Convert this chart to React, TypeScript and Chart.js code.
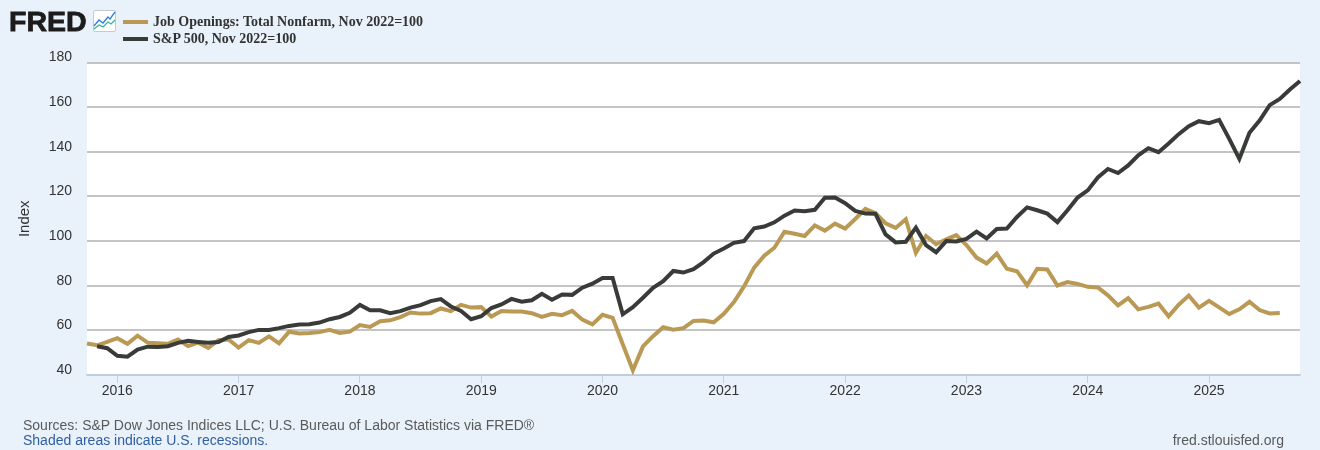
import React, { useEffect, useRef } from "react";
import { Chart, registerables } from "chart.js";

Chart.register(...registerables);

const START_YEAR = 2015;
const START_MONTH = 10;
const months: string[] = [];
for (let i = 0; i < 121; i++) {
  const m = START_MONTH - 1 + i;
  const y = START_YEAR + Math.floor(m / 12);
  months.push(`${y}-${String((m % 12) + 1).padStart(2, "0")}`);
}

const jobOpenings: (number | null)[] = [
  54.1, 53.3, 54.8, 56.5, 54, 57.6, 54.5, 54.2, 54, 55.9, 53, 54.5, 52.1, 55.6, 55.9, 52.3,
  55.6, 54.4, 57.3, 54.2, 59.4, 58.6, 58.8, 59.2, 60.2, 58.8, 59.4, 62.4, 61.5, 64.1, 64.5, 65.9,
  68, 67.5, 67.7, 69.8, 68.6, 71.4, 70.2, 70.4, 66.2, 68.7, 68.4, 68.4, 67.7, 66, 67.4, 66.8,
  68.7, 64.8, 62.7, 67, 65.6, 53.8, 42.1, 52.8, 57.4, 61.4, 60.3, 61, 64.2, 64.4, 63.6, 67.4,
  72.7, 79.7, 88.1, 93.4, 97, 104.2, 103.3, 102.3, 107, 104.7, 107.8, 105.6, 109.9, 114.4, 112.5, 108,
  105.9, 109.8, 94.7, 102.3, 98.6, 100.8, 102.7, 98.2, 92.6, 90, 94.4, 87.6, 86.5, 80.2, 87.6, 87.3,
  80.1, 81.6, 80.8, 79.5, 79.2, 75.7, 71.2, 74.4, 69.4, 70.5, 72, 66.3, 71.5, 75.6, 70.2, 73.2,
  70.3, 67.3, 69.4, 72.8, 69.1, 67.6, 67.8, null, null,
];

const sp500: (number | null)[] = [
  null, 52.9, 52, 48.6, 48.2, 51.4, 52.7, 52.6, 52.9, 54.4, 55.3, 54.8, 54.4, 54.8, 57, 57.7,
  59.2, 60.2, 60.2, 61, 62, 62.6, 62.7, 63.5, 65, 66, 67.9, 71.4, 69, 69, 67.7, 68.6,
  70.2, 71.3, 73.1, 74, 70.7, 68.7, 65, 66.3, 70, 71.6, 74.1, 72.8, 73.5, 76.4, 73.7, 76.1,
  75.9, 79.1, 80.9, 83.5, 83.5, 67.2, 70.4, 74.6, 79.1, 82, 86.6, 85.9, 87.4, 90.6, 94.4, 96.7,
  99.2, 100, 105.7, 106.5, 108.4, 111.4, 113.7, 113.4, 114, 119.4, 119.5, 117, 113.5, 112.3, 112.2, 103,
  99.4, 99.7, 106, 98.2, 95, 100, 99.8, 101, 104.2, 101.2, 105.4, 105.6, 110.8, 115.1, 113.8, 112.3,
  108.5, 113.8, 119.5, 122.7, 128.5, 132.3, 130.5, 133.9, 138.4, 141.6, 139.8, 143.7, 147.9, 151.5, 153.7, 152.8,
  154.3, 145.8, 136.8, 148.5, 154, 160.9, 163.7, 167.9, 171.7,
];

const yTicks = [40, 60, 80, 100, 120, 140, 160, 180];
const seriesNames = ["Job Openings: Total Nonfarm, Nov 2022=100", "S&P 500, Nov 2022=100"];
const seriesColors = ["#BA9955", "#383B38"];
const sourceLine = "Sources: S&P Dow Jones Indices LLC; U.S. Bureau of Labor Statistics via FRED®";
const recessionLine = "Shaded areas indicate U.S. recessions.";
const siteLine = "fred.stlouisfed.org";

const SANS = '"Liberation Sans", Arial, sans-serif';
const BG = "#E9F1FA";

const plotBg = {
  id: "plotBg",
  beforeDraw(chart: any) {
    const { ctx, chartArea: a } = chart;
    ctx.save();
    ctx.fillStyle = "#ffffff";
    ctx.fillRect(a.left, a.top, a.right - a.left, a.bottom - a.top);
    ctx.restore();
  },
};

export default function App() {
  const ref = useRef<HTMLCanvasElement>(null);
  useEffect(() => {
    const chart = new Chart(ref.current!, {
      type: "line",
      plugins: [plotBg],
      data: {
        labels: months,
        datasets: [
          {
            label: seriesNames[0],
            data: jobOpenings,
            borderColor: seriesColors[0],
            backgroundColor: seriesColors[0],
            borderWidth: 4,
            pointRadius: 0,
            tension: 0,
            borderJoinStyle: "miter",
            order: 2,
          },
          {
            label: seriesNames[1],
            data: sp500,
            borderColor: seriesColors[1],
            backgroundColor: seriesColors[1],
            borderWidth: 4,
            pointRadius: 0,
            tension: 0,
            borderJoinStyle: "miter",
            order: 1,
          },
        ],
      },
      options: {
        animation: false,
        responsive: false,
        devicePixelRatio: 1,
        layout: { padding: { top: 62.5, right: 20, left: 0, bottom: 0 } },
        plugins: { legend: { display: false }, tooltip: { enabled: false } },
        scales: {
          x: {
            type: "category",
            offset: false,
            afterBuildTicks(scale: any) {
              scale.ticks = scale.ticks.filter((t: any) => months[t.value].endsWith("-01"));
            },
            afterFit(scale: any) {
              scale.height = 75;
            },
            ticks: {
              autoSkip: false,
              maxRotation: 0,
              minRotation: 0,
              padding: 0,
              color: "#333333",
              font: { family: SANS, size: 14 },
              callback(value: any) {
                return months[value as number].slice(0, 4);
              },
            },
            grid: { drawOnChartArea: false, drawTicks: true, tickLength: 8, tickColor: "#C0D0E0", tickWidth: 1 },
            border: { display: true, color: "#C0D0E0", width: 1.5 },
          },
          y: {
            min: 40,
            max: 180,
            afterBuildTicks(scale: any) {
              scale.ticks = yTicks.map((value) => ({ value }));
            },
            afterFit(scale: any) {
              scale.width = 87;
            },
            title: {
              display: true,
              text: "Index",
              color: "#333333",
              font: { family: SANS, size: 15 },
              padding: { top: 16, bottom: 0 },
            },
            ticks: {
              color: "#333333",
              padding: 15,
              labelOffset: -5,
              font: { family: SANS, size: 14 },
            },
            grid: { color: "#C4C4C4", lineWidth: 2, drawTicks: false },
            border: { display: false },
          },
        },
      },
    } as any);
    return () => chart.destroy();
  }, []);

  const abs = (s: React.CSSProperties): React.CSSProperties => ({ position: "absolute", whiteSpace: "nowrap", ...s });

  return (
    <div style={{ position: "fixed", left: 0, top: 0, width: 1320, height: 450, background: BG, overflow: "hidden" }}>
      <canvas ref={ref} width={1320} height={450} style={{ position: "absolute", left: 0, top: 0, display: "block" }} />
      <div
        style={abs({
          left: 9,
          top: 4,
          fontFamily: SANS,
          fontWeight: 700,
          fontSize: 28.5,
          lineHeight: "34px",
          letterSpacing: 0,
          color: "#1c1c1c",
          WebkitTextStroke: "0.8px #1c1c1c",
        })}
      >
        FRED
      </div>
      <svg width={23} height={23} style={{ position: "absolute", left: 93, top: 10 }} viewBox="0 0 23 23">
        <rect x={0.5} y={0.5} width={22} height={21} rx={1.5} fill="#fff" stroke="#c8c8c8" />
        <polyline points="1,16 6,10 10,13 15,7 17,9 22,2" fill="none" stroke="#2f7fdc" strokeWidth={1.3} />
        <polyline points="1,19 6,15 10,17 15,12 18,14 22,10" fill="none" stroke="#35b59b" strokeWidth={1.3} />
      </svg>
      {seriesNames.map((name, i) => (
        <React.Fragment key={name}>
          <div style={abs({ left: 123, top: 20 + i * 17, width: 25, height: 4, background: seriesColors[i] })} />
          <div
            style={abs({
              left: 153,
              top: 13 + i * 16.5,
              fontFamily: '"Liberation Serif", "Times New Roman", serif',
              fontWeight: 700,
              fontSize: 14,
              lineHeight: "17px",
              color: "#333333",
            })}
          >
            {name}
          </div>
        </React.Fragment>
      ))}
      <div style={abs({ left: 23, top: 417, fontFamily: SANS, fontSize: 14, lineHeight: "16px", color: "#5a5a5a" })}>{sourceLine}</div>
      <div style={abs({ left: 23, top: 432, fontFamily: SANS, fontSize: 14, lineHeight: "16px", color: "#2f5ea3" })}>{recessionLine}</div>
      <div style={abs({ right: 36, top: 432, fontFamily: SANS, fontSize: 14, lineHeight: "16px", color: "#5a5a5a" })}>{siteLine}</div>
    </div>
  );
}
